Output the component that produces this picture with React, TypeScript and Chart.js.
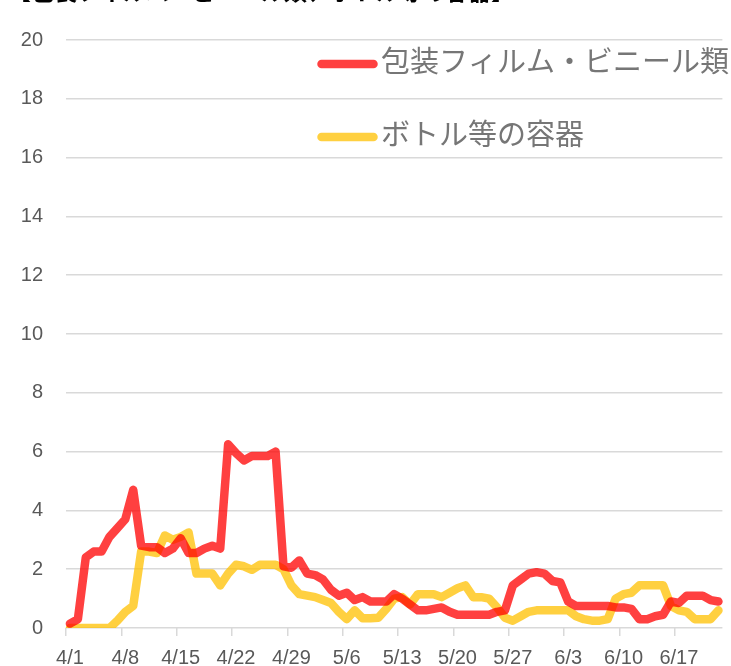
import React, { useEffect, useRef } from "react";
import { Chart, registerables } from "chart.js";

Chart.register(...registerables);

const TITLE = "【包装フィルム・ビニール類、ボトル等の容器】";
const SERIES_NAMES = ["包装フィルム・ビニール類", "ボトル等の容器"];
const START_MONTH = 4;
const MONTH_DAYS: Record<number, number> = { 4: 30, 5: 31, 6: 30 };
const DAY_COUNT = 83;
const LABEL_EVERY = 7;

const filmValues = [
  0.15, 0.3, 2.4, 2.6, 2.6, 3.1, 3.4, 3.7, 4.7, 2.8,
  2.75, 2.75, 2.55, 2.7, 3.05, 2.55, 2.55, 2.7, 2.8, 2.7,
  6.25, 5.95, 5.7, 5.85, 5.85, 5.85, 6.0, 2.1, 2.05, 2.3,
  1.85, 1.8, 1.65, 1.3, 1.1, 1.2, 0.95, 1.05, 0.9, 0.9,
  0.9, 1.15, 1.0, 0.8, 0.6, 0.6, 0.65, 0.7, 0.55, 0.45,
  0.45, 0.45, 0.45, 0.45, 0.55, 0.6, 1.45, 1.65, 1.85, 1.9,
  1.85, 1.6, 1.55, 0.9, 0.75, 0.75, 0.75, 0.75, 0.75, 0.7,
  0.7, 0.65, 0.3, 0.3, 0.4, 0.45, 0.9, 0.85, 1.1, 1.1,
  1.1, 0.95, 0.9,
];

const bottleValues = [
  0, 0, 0, 0, 0, 0, 0.25, 0.55, 0.75, 2.6,
  2.6, 2.55, 3.15, 3.0, 3.1, 3.25, 1.85, 1.85, 1.85, 1.45,
  1.85, 2.15, 2.1, 1.98, 2.15, 2.15, 2.15, 2.0, 1.45, 1.15,
  1.1, 1.05, 0.95, 0.85, 0.55, 0.3, 0.6, 0.33, 0.33, 0.35,
  0.65, 1.0, 1.05, 0.8, 1.15, 1.15, 1.15, 1.05, 1.2, 1.35,
  1.45, 1.05, 1.05, 1.0, 0.7, 0.35, 0.25, 0.4, 0.55, 0.6,
  0.6, 0.6, 0.6, 0.6, 0.4, 0.3, 0.25, 0.25, 0.3, 1.0,
  1.15, 1.2, 1.45, 1.45, 1.45, 1.45, 0.75, 0.6, 0.55, 0.3,
  0.3, 0.3, 0.6,
];

const Y_MIN = 0;
const Y_MAX = 20;
const Y_STEP = 2;

function buildDateLabels(): string[] {
  const out: string[] = [];
  let m = START_MONTH;
  let d = 1;
  for (let i = 0; i < DAY_COUNT; i++) {
    out.push(`${m}/${d}`);
    d++;
    if (d > MONTH_DAYS[m]) {
      d = 1;
      m++;
    }
  }
  return out;
}

const dateLabels = buildDateLabels();

const RED = "rgba(255, 0, 0, 0.75)";
const GOLD = "rgba(255, 192, 0, 0.75)";
const GRID = "#d9d9d9";
const TEXT = "#595959";
const LINE_W = 8.5;

const overlayPlugin = {
  id: "overlay",
  afterDraw(chart: any) {
    const ctx = chart.ctx as CanvasRenderingContext2D;
    ctx.save();
    ctx.font = 'bold 23px "Noto Sans CJK JP"';
    ctx.fillStyle = "#000";
    ctx.textAlign = "left";
    ctx.textBaseline = "alphabetic";
    ctx.fillText(TITLE, 8, 0);

    chart.data.datasets.forEach((ds: any, i: number) => {
      const y = 64 + i * 73;
      ctx.strokeStyle = ds.borderColor;
      ctx.lineWidth = LINE_W;
      ctx.lineCap = "round";
      ctx.beginPath();
      ctx.moveTo(321.5, y);
      ctx.lineTo(373.5, y);
      ctx.stroke();
      ctx.font = '29px "Noto Sans CJK JP"';
      ctx.fillStyle = "#767676";
      ctx.textBaseline = "middle";
      ctx.fillText(ds.label, 381, y - 3);
    });
    ctx.restore();
  },
};

export default function App() {
  const ref = useRef<HTMLCanvasElement | null>(null);

  useEffect(() => {
    if (!ref.current) return;
    const chart = new Chart(ref.current, {
      type: "line",
      data: {
        labels: dateLabels,
        datasets: [
          {
            label: SERIES_NAMES[0],
            data: filmValues,
            borderColor: RED,
            backgroundColor: RED,
            borderWidth: LINE_W,
            borderJoinStyle: "round",
            borderCapStyle: "round",
            pointRadius: 0,
            tension: 0,
            fill: false,
          },
          {
            label: SERIES_NAMES[1],
            data: bottleValues,
            borderColor: GOLD,
            backgroundColor: GOLD,
            borderWidth: LINE_W,
            borderJoinStyle: "round",
            borderCapStyle: "round",
            pointRadius: 0,
            tension: 0,
            fill: false,
          },
        ],
      },
      options: {
        responsive: true,
        maintainAspectRatio: false,
        animation: false,
        layout: { padding: { top: 40, right: 8.6, left: 0, bottom: 0 } },
        plugins: {
          legend: { display: false },
          title: { display: false },
          tooltip: { enabled: false },
        },
        scales: {
          x: {
            type: "category",
            offset: true,
            afterFit: (scale: any) => {
              scale.height = 38;
            },
            grid: {
              display: true,
              offset: true,
              drawOnChartArea: false,
              drawTicks: true,
              tickLength: 8,
              lineWidth: 1.5,
              tickColor: (c: any) => (c.index % LABEL_EVERY === 0 ? GRID : "rgba(0,0,0,0)"),
              color: (c: any) => (c.index % LABEL_EVERY === 0 ? GRID : "rgba(0,0,0,0)"),
            },
            border: { display: false },
            ticks: {
              autoSkip: false,
              maxRotation: 0,
              minRotation: 0,
              padding: 10,
              color: TEXT,
              font: { family: '"Liberation Sans", Arial, sans-serif', size: 20 },
              callback: (_v: any, idx: number) => (idx % LABEL_EVERY === 0 ? dateLabels[idx] : ""),
            },
          },
          y: {
            min: Y_MIN,
            max: Y_MAX,
            afterFit: (scale: any) => {
              scale.width = 66;
            },
            grid: {
              color: GRID,
              lineWidth: 1.5,
              drawTicks: false,
            },
            border: { display: false },
            ticks: {
              stepSize: Y_STEP,
              padding: 23,
              color: TEXT,
              font: { family: '"Liberation Sans", Arial, sans-serif', size: 20 },
            },
          },
        },
      },
      plugins: [overlayPlugin],
    });
    return () => chart.destroy();
  }, []);

  return (
    <div style={{ position: "absolute", left: 0, top: 0, width: 731, height: 666 }}>
      <canvas ref={ref} />
    </div>
  );
}
